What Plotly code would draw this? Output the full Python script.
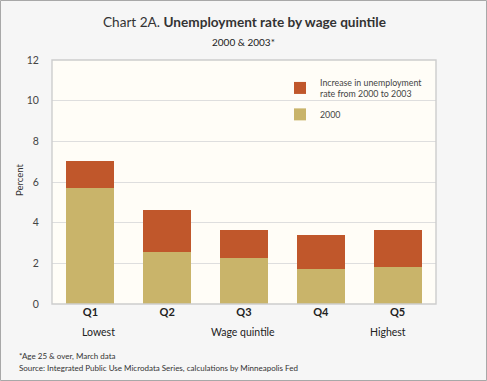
import plotly.graph_objects as go

categories = ["Q1", "Q2", "Q3", "Q4", "Q5"]
values_2000 = [5.7, 2.54, 2.25, 1.72, 1.84]
values_increase = [1.35, 2.08, 1.41, 1.69, 1.78]
yticks = [0, 2, 4, 6, 8, 10, 12]
sub_labels = [("Q1", "Lowest", 8), ("Q3", "Wage quintile", -1), ("Q5", "Highest", -10)]

FONT = "Lato"
TAN = "#C9B46A"
RUST = "#C0572B"

fig = go.Figure()
fig.add_bar(x=categories, y=values_2000, name="2000", legendgroup="b", legendrank=2,
            marker=dict(color=TAN, line=dict(width=0)))
fig.add_bar(x=categories, y=values_increase, legendgroup="a", legendrank=1,
            name="Increase in unemployment<br>rate from 2000 to 2003",
            marker=dict(color=RUST, line=dict(width=0)))

W, H = 487, 381
L, R, T, B = 52, 51, 60, 77
pw, ph = W - L - R, H - T - B

def px(xp):
    return (xp - L) / pw

def py(yp):
    return (H - B - yp) / ph

annotations = [
    dict(text="Chart 2A. <b>Unemployment rate by wage quintile</b>", x=px(244.5), y=py(22),
         xref="paper", yref="paper", showarrow=False, font=dict(family=FONT, size=13.6, color="#333"),
         xanchor="center", yanchor="middle"),
    dict(text="2000 & 2003*", x=px(243), y=py(42), xref="paper", yref="paper", showarrow=False,
         font=dict(family=FONT, size=10, color="#222"), xanchor="center", yanchor="middle"),
    dict(text="Percent", x=px(19), y=py(180), xref="paper", yref="paper", showarrow=False,
         textangle=-90, font=dict(family=FONT, size=9.5, color="#333"), xanchor="center", yanchor="middle"),
    dict(text="*Age 25 & over, March data", x=px(17), y=py(356), xref="paper", yref="paper",
         showarrow=False, font=dict(family=FONT, size=8, color="#333"), xanchor="left", yanchor="middle"),
    dict(text="Source: Integrated Public Use Microdata Series, calculations by Minneapolis Fed",
         x=px(17), y=py(368), xref="paper", yref="paper", showarrow=False,
         font=dict(family=FONT, size=8, color="#333"), xanchor="left", yanchor="middle"),
]
for cat, lab, shift in sub_labels:
    annotations.append(dict(text=lab, x=cat, y=py(332), xref="x", yref="paper", showarrow=False,
                            xshift=shift, font=dict(family=FONT, size=10.5, color="#222"),
                            xanchor="center", yanchor="middle"))

shapes = [
    dict(type="rect", xref="paper", yref="paper", x0=px(0.5), x1=px(486.5), y0=py(380.5), y1=py(0.5),
         line=dict(color="#A8A8A8", width=1), fillcolor="rgba(0,0,0,0)", layer="below"),
    dict(type="rect", xref="paper", yref="paper", x0=0, x1=1, y0=0, y1=1,
         line=dict(color="#CDCDCD", width=1.4), fillcolor="rgba(0,0,0,0)", layer="above"),
]

fig.update_layout(
    width=W, height=H,
    margin=dict(l=L, r=R, t=T, b=B, pad=0),
    barmode="stack", bargap=0.375,
    paper_bgcolor="#F6F6F6", plot_bgcolor="#FFFDF7",
    font=dict(family=FONT, size=10, color="#333"),
    showlegend=True,
    legend=dict(x=px(280), y=py(70), xanchor="left", yanchor="top", traceorder="grouped",
                bgcolor="rgba(0,0,0,0)", font=dict(family=FONT, size=8.8, color="#444"),
                itemsizing="constant", tracegroupgap=4),
    annotations=annotations,
    shapes=shapes,
    xaxis=dict(showgrid=False, showline=False, ticks="", tickfont=dict(family=FONT, size=11, color="#222",
               weight="bold"), fixedrange=True),
    yaxis=dict(range=[0, 12], tickvals=yticks, showgrid=True, gridcolor="#DEDEDE", gridwidth=1.2,
               zeroline=False, showline=False, ticks="outside", ticklen=10, tickcolor="rgba(0,0,0,0)",
               tickfont=dict(family=FONT, size=10.5, color="#444"), fixedrange=True),
)

fig.write_html("out.html", config={"displayModeBar": False},
               post_script="document.body.style.margin='0';document.body.style.overflow='hidden';")
